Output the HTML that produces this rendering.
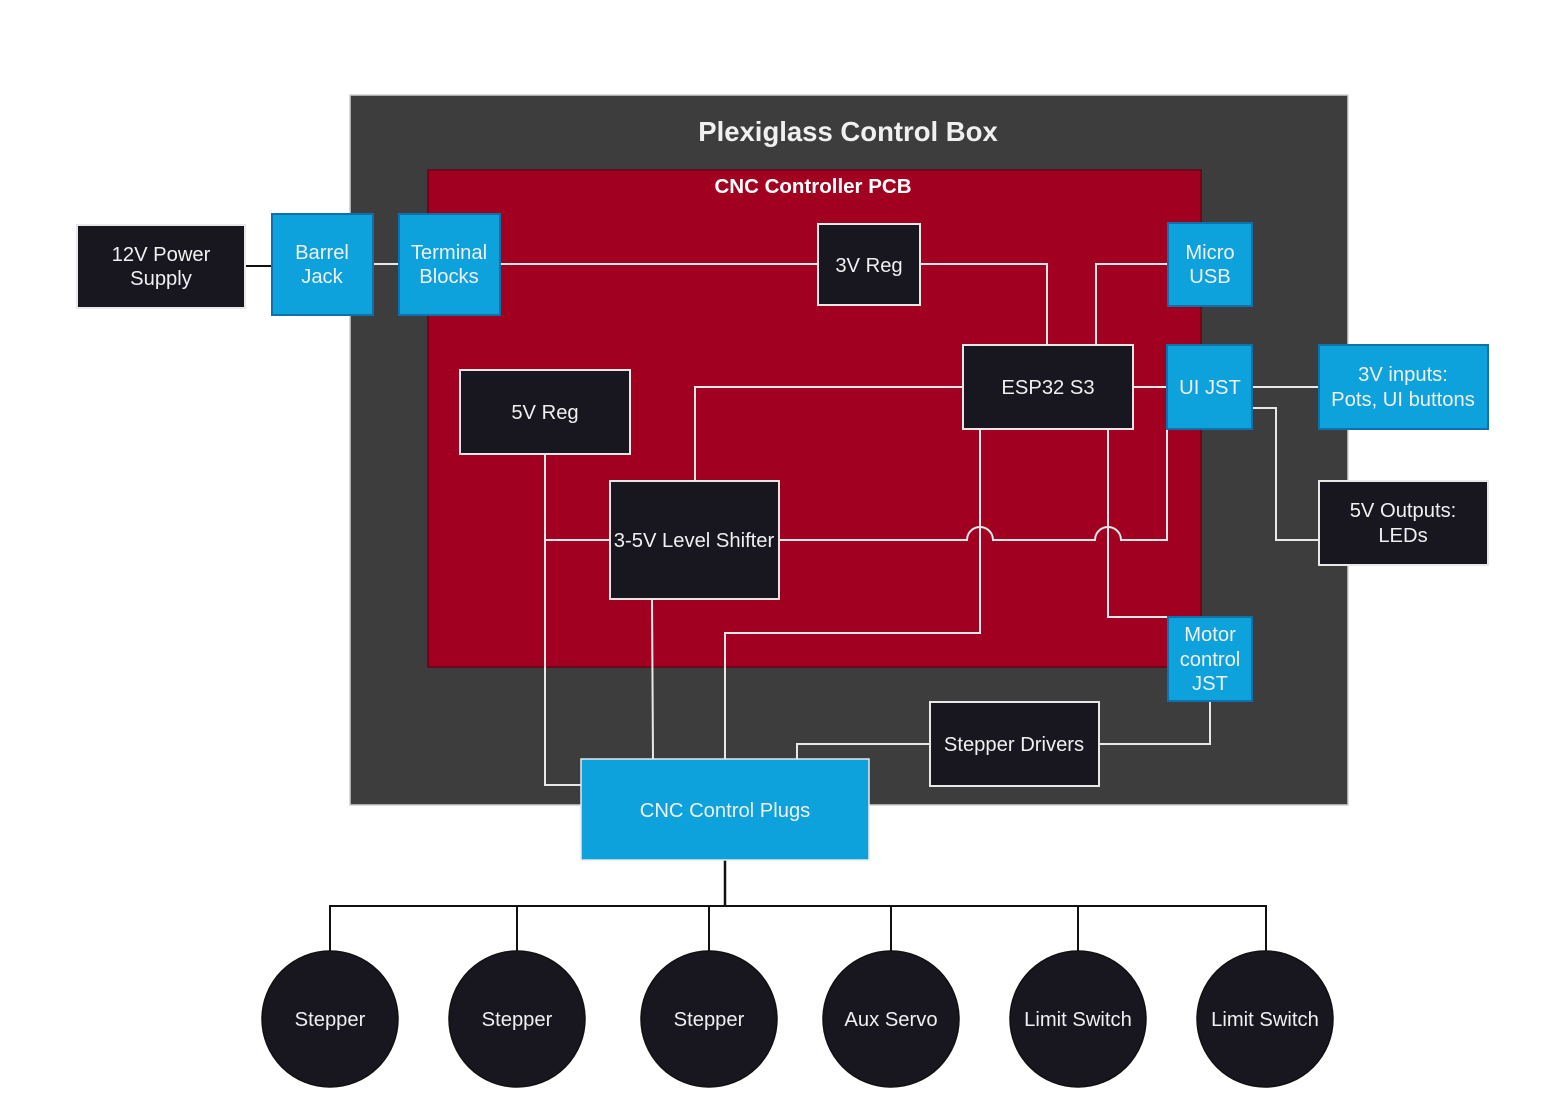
<!DOCTYPE html>
<html><head><meta charset="utf-8"><style>
html,body{margin:0;padding:0;background:#fff}
svg{display:block}
text{font-family:"Liberation Sans",Arial,sans-serif;fill:#f0f0f0;font-size:20.2px;text-anchor:middle}
.d{fill:#18161f;stroke:#e8e8e8;stroke-width:2}
.b{fill:#0ea2dd;stroke:#1070ac;stroke-width:2}
.w{fill:none;stroke:#e8e8e8;stroke-width:2}
.k{fill:none;stroke:#111;stroke-width:2}
</style></head><body>
<svg width="1542" height="1116" viewBox="0 0 1542 1116" xmlns="http://www.w3.org/2000/svg">
<rect x="350" y="95" width="998" height="710" fill="#3d3d3d" stroke="#d0d0d0" stroke-width="1.5"/>
<text x="848" y="141" style="font-size:27.5px;font-weight:bold">Plexiglass Control Box</text>
<rect x="428" y="170" width="773" height="497" fill="#a20021" stroke="#6a0014" stroke-width="1.5"/>
<text x="813" y="193" style="font-weight:bold;fill:#fff;font-size:20.5px">CNC Controller PCB</text>

<path class="k" d="M245 266H272"/>
<path class="w" d="M373 264H399"/>
<path class="w" d="M500 264H818"/>
<path class="w" d="M920 264H1047V345"/>
<path class="w" d="M1096 345V264H1168"/>
<path class="w" d="M963 387H695V481"/>
<path class="w" d="M1133 387H1167"/>
<path class="w" d="M1252 387H1319"/>
<path class="w" d="M1252 408H1276V540H1319"/>
<path class="w" d="M779 540H967A13 13 0 0 1 993 540H1095A13 13 0 0 1 1121 540H1167V429"/>
<path class="w" d="M545 454V785H581"/>
<path class="w" d="M545 540H610"/>
<path class="w" d="M652 599L653 759"/>
<path class="w" d="M980 429V633H725V759"/>
<path class="w" d="M1108 429V617H1168"/>
<path class="w" d="M930 744H797V759"/>
<path class="w" d="M1099 744H1210V701"/>
<path class="k" d="M725 860V906" style="stroke-width:2.5"/>
<path class="k" d="M330 951V906H1266V951M517 906V951M709 906V951M891 906V951M1078 906V951"/>

<rect class="d" x="77" y="225" width="168" height="83"/>
<text x="161" y="261">12V Power</text><text x="161" y="285">Supply</text>
<rect class="b" x="272" y="214" width="101" height="101"/>
<text x="322" y="259">Barrel</text><text x="322" y="283">Jack</text>
<rect class="b" x="399" y="214" width="101" height="101"/>
<text x="449" y="259">Terminal</text><text x="449" y="283">Blocks</text>
<rect class="d" x="818" y="224" width="102" height="81"/>
<text x="869" y="272">3V Reg</text>
<rect class="b" x="1168" y="223" width="84" height="83"/>
<text x="1210" y="259">Micro</text><text x="1210" y="283">USB</text>
<rect class="d" x="963" y="345" width="170" height="84"/>
<text x="1048" y="394">ESP32 S3</text>
<rect class="b" x="1167" y="345" width="85" height="84"/>
<text x="1210" y="394">UI JST</text>
<rect class="b" x="1319" y="345" width="169" height="84"/>
<text x="1403" y="381">3V inputs:</text><text x="1403" y="406">Pots, UI buttons</text>
<rect class="d" x="460" y="370" width="170" height="84"/>
<text x="545" y="419">5V Reg</text>
<rect class="d" x="610" y="481" width="169" height="118"/>
<text x="694" y="547">3-5V Level Shifter</text>
<rect class="d" x="1319" y="481" width="169" height="84"/>
<text x="1403" y="517">5V Outputs:</text><text x="1403" y="542">LEDs</text>
<rect class="b" x="1168" y="617" width="84" height="84"/>
<text x="1210" y="641">Motor</text><text x="1210" y="666">control</text><text x="1210" y="690">JST</text>
<rect class="d" x="930" y="702" width="169" height="84"/>
<text x="1014" y="751">Stepper Drivers</text>
<rect x="581" y="759" width="288" height="101" fill="#0ea2dd" stroke="#e8e8e8" stroke-width="1.5"/>
<text x="725" y="817">CNC Control Plugs</text>

<g fill="#18161f" stroke="#111" stroke-width="1.5">
<circle cx="330" cy="1019" r="68"/><circle cx="517" cy="1019" r="68"/><circle cx="709" cy="1019" r="68"/>
<circle cx="891" cy="1019" r="68"/><circle cx="1078" cy="1019" r="68"/><circle cx="1265" cy="1019" r="68"/>
</g>
<text x="330" y="1026">Stepper</text><text x="517" y="1026">Stepper</text><text x="709" y="1026">Stepper</text>
<text x="891" y="1026">Aux Servo</text><text x="1078" y="1026">Limit Switch</text><text x="1265" y="1026">Limit Switch</text>
</svg>
</body></html>
